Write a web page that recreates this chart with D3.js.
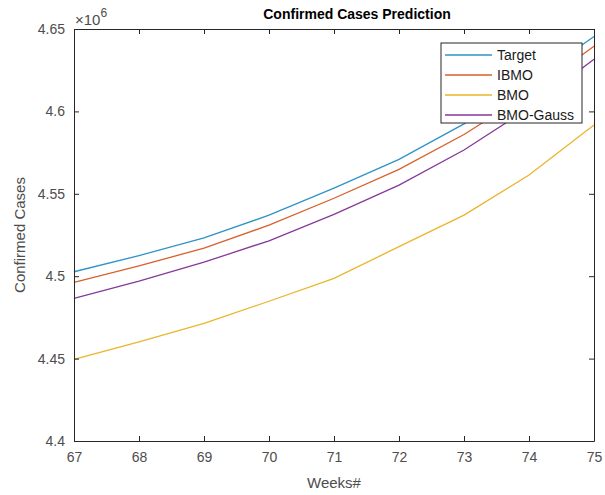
<!DOCTYPE html>
<html><head><meta charset="utf-8">
<script src="https://cdn.jsdelivr.net/npm/d3@7"></script>
<style>
html,body{margin:0;padding:0;background:#fff;}
svg text{font-family:"Liberation Sans",Arial,Helvetica,sans-serif;}
</style></head><body>
<svg id="chart" width="605" height="495"></svg>
<script>
const weeks = [67, 68, 69, 70, 71, 72, 73, 74, 75];
const target    = [4.5027, 4.5125, 4.5232, 4.5370, 4.5535, 4.5709, 4.5924, 4.6175, 4.6455];
const ibmo      = [4.4963, 4.5063, 4.5170, 4.5310, 4.5473, 4.5648, 4.5860, 4.6110, 4.6395];
const bmo       = [4.4496, 4.4602, 4.4714, 4.4848, 4.4987, 4.5179, 4.5371, 4.5614, 4.5917];
const bmoGauss  = [4.4866, 4.4970, 4.5085, 4.5215, 4.5375, 4.5553, 4.5766, 4.6020, 4.6316];
const seriesNames = ["Target", "IBMO", "BMO", "BMO-Gauss"];
const seriesColors = ["#2e93c6", "#d9602a", "#eab52a", "#85399a"];
const yTicks = [4.4, 4.45, 4.5, 4.55, 4.6, 4.65];
const yTickLabels = ["4.4", "4.45", "4.5", "4.55", "4.6", "4.65"];

const series = [target, ibmo, bmo, bmoGauss];
const svg = d3.select("#chart");
const L = 74, R = 594, T = 29, B = 441;
const x = d3.scaleLinear().domain([67, 75]).range([L, R]);
const y = d3.scaleLinear().domain([4.4, 4.65]).range([B, T]);
const axisColor = "#262626";
const tickTextColor = "#4d4d4d";

// data lines
const line = d3.line().x((d, i) => x(weeks[i])).y(d => y(d));
series.forEach((s, k) => {
  svg.append("path").datum(s).attr("d", line)
    .attr("fill", "none").attr("stroke", seriesColors[k]).attr("stroke-width", 1.3);
});

// axes
function styleAxis(g) {
  g.select(".domain").attr("stroke", axisColor);
  g.selectAll(".tick line").attr("stroke", axisColor);
  g.selectAll(".tick text").attr("fill", tickTextColor).style("font-size", "14px");
}
const xb = svg.append("g").attr("transform", `translate(0,${B})`)
  .call(d3.axisBottom(x).tickValues(weeks).tickFormat(d3.format("d")).tickSizeInner(-5).tickSizeOuter(0).tickPadding(11));
styleAxis(xb);
const xt = svg.append("g").attr("transform", `translate(0,${T})`)
  .call(d3.axisTop(x).tickValues(weeks).tickFormat("").tickSizeInner(-5).tickSizeOuter(0));
styleAxis(xt);
const yl = svg.append("g").attr("transform", `translate(${L},0)`)
  .call(d3.axisLeft(y).tickValues(yTicks).tickFormat((d, i) => yTickLabels[i]).tickSizeInner(-5).tickSizeOuter(0).tickPadding(9));
styleAxis(yl);
const yr = svg.append("g").attr("transform", `translate(${R},0)`)
  .call(d3.axisRight(y).tickValues(yTicks).tickFormat("").tickSizeInner(-5).tickSizeOuter(0));
styleAxis(yr);

// exponent
const ex = svg.append("text").attr("x", L + 1).attr("y", 25).attr("fill", tickTextColor).style("font-size", "15px");
ex.append("tspan").text("\u00d710");
ex.append("tspan").attr("dy", -8).style("font-size", "12px").text("6");

// title & labels
svg.append("text").attr("x", 357).attr("y", 19).attr("text-anchor", "middle")
  .style("font-size", "14px").style("font-weight", "bold").attr("fill", "#000").text("Confirmed Cases Prediction");
svg.append("text").attr("x", (L + R) / 2).attr("y", 488).attr("text-anchor", "middle")
  .style("font-size", "15px").attr("fill", tickTextColor).text("Weeks#");
svg.append("text").attr("transform", `translate(25,${(T + B) / 2}) rotate(-90)`).attr("text-anchor", "middle")
  .style("font-size", "15px").attr("fill", tickTextColor).text("Confirmed Cases");

// legend
const lg = svg.append("g");
lg.append("rect").attr("x", 441).attr("y", 43).attr("width", 141).attr("height", 80)
  .attr("fill", "#fff").attr("stroke", axisColor).attr("stroke-width", 1);
const ly = d3.scalePoint().domain(seriesNames).range([55, 115]);
seriesNames.forEach((n, k) => {
  lg.append("line").attr("x1", 445).attr("x2", 492).attr("y1", ly(n)).attr("y2", ly(n))
    .attr("stroke", seriesColors[k]).attr("stroke-width", 1.3);
  lg.append("text").attr("x", 497).attr("y", ly(n) + 5).style("font-size", "14px").attr("fill", "#1a1a1a").text(n);
});
</script>
</body></html>
